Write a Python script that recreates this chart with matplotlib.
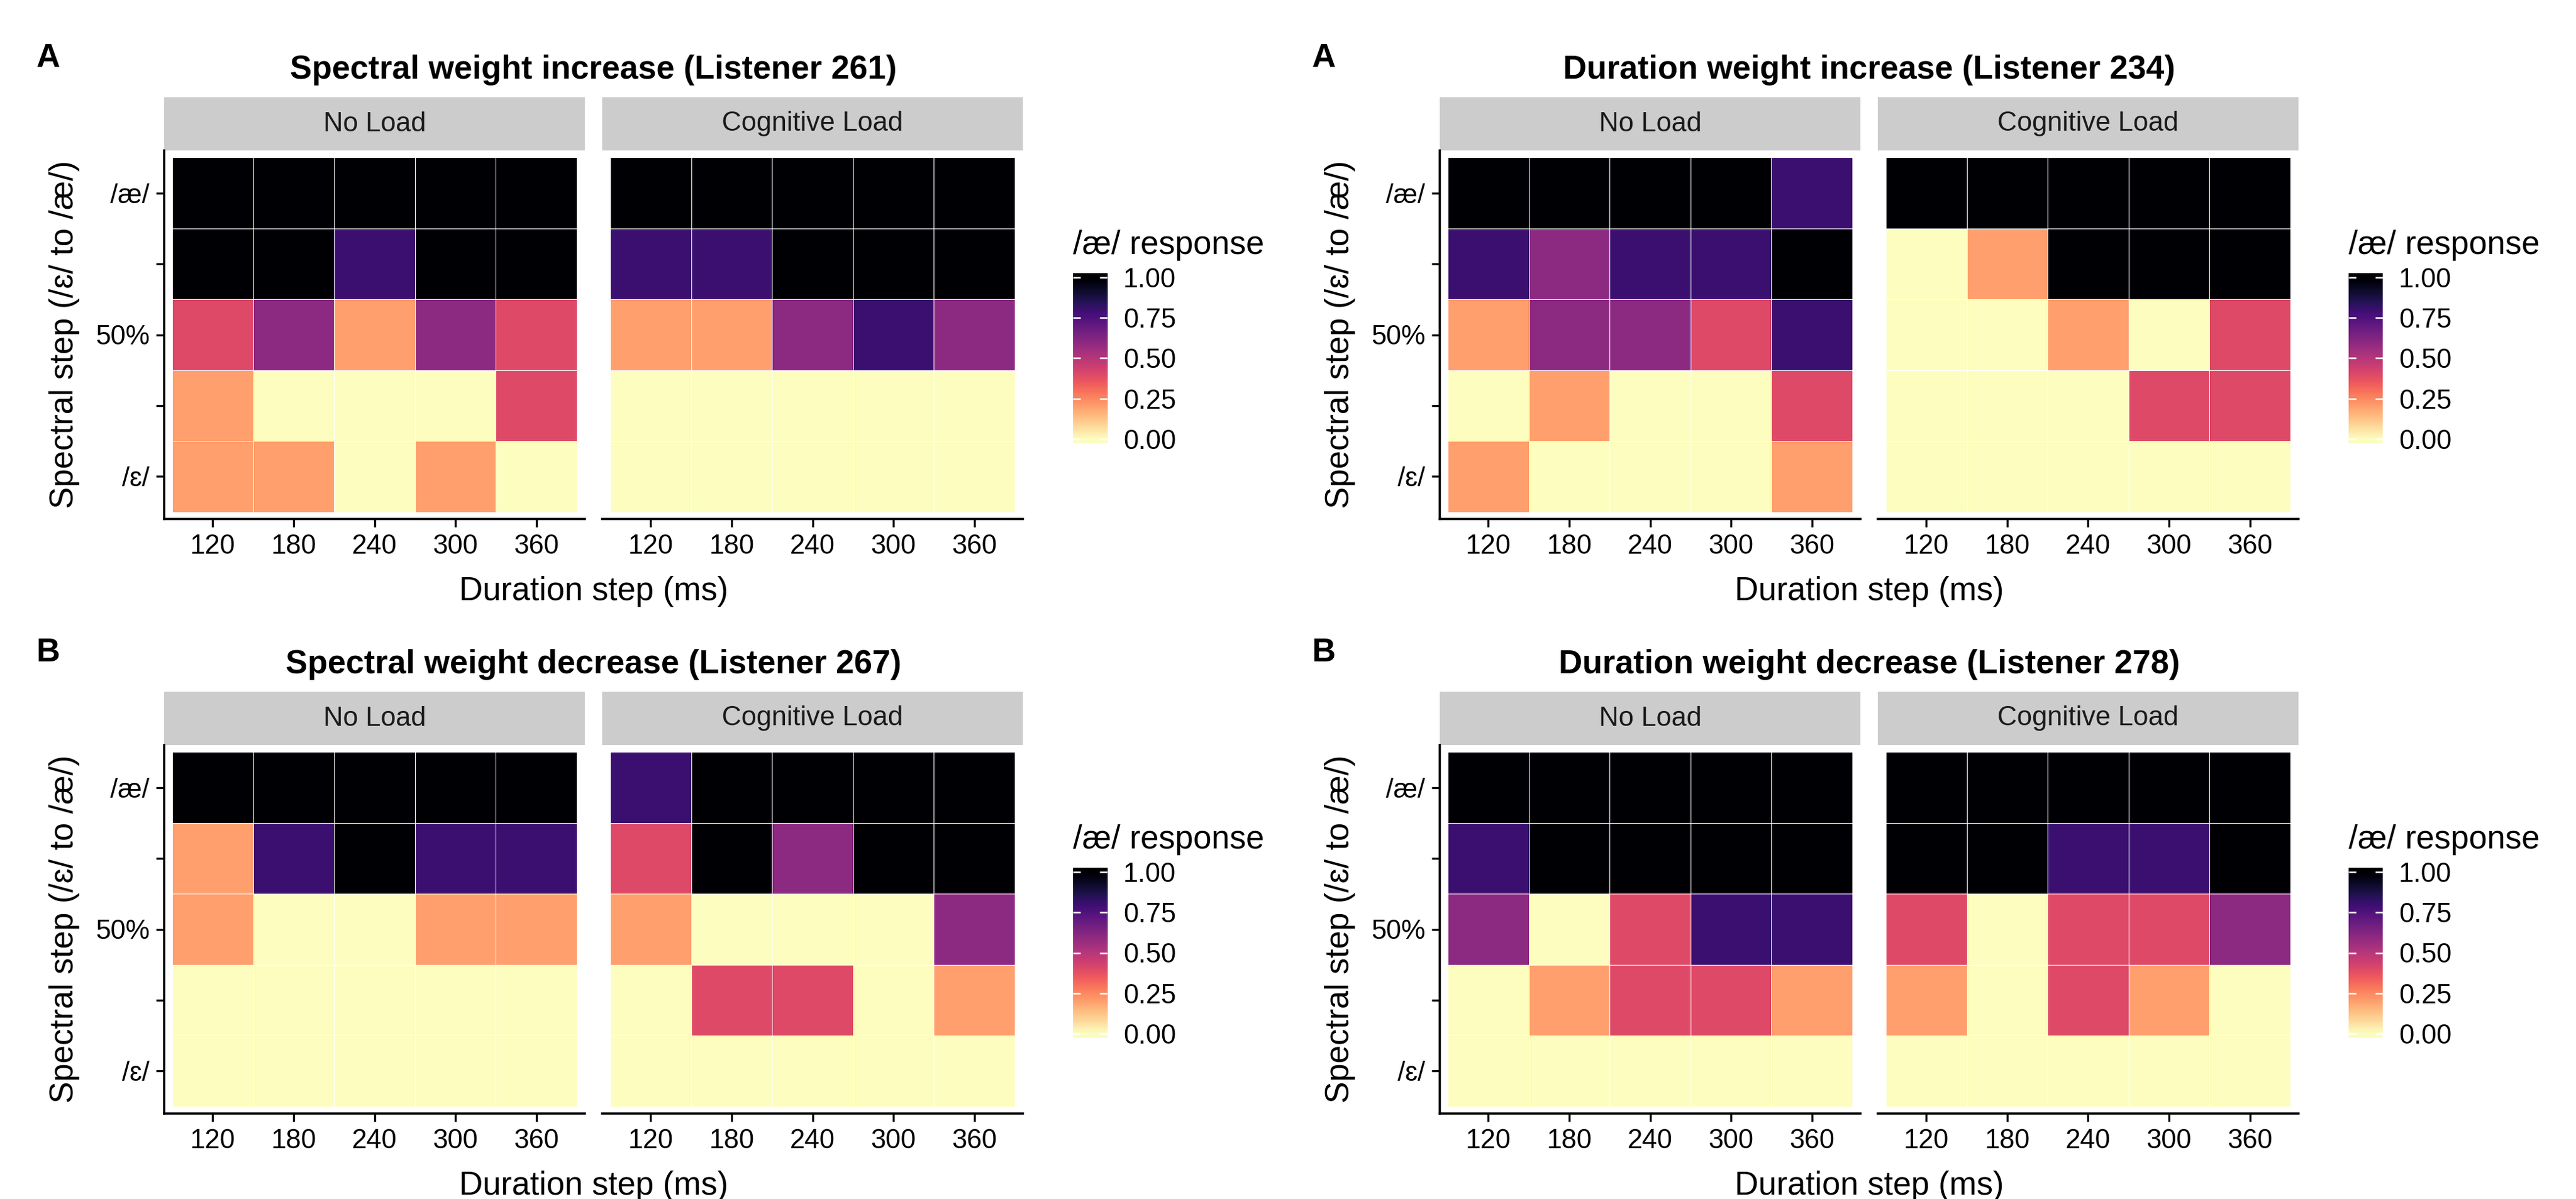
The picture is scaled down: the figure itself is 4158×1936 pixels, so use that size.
import numpy as np
import matplotlib
matplotlib.use("Agg")
import matplotlib.pyplot as plt

plt.rcParams['font.family'] = ['Liberation Sans', 'DejaVu Sans']

durations = [120, 180, 240, 300, 360]
spectral_steps = [1, 2, 3, 4, 5]
step_labels = ['/ɛ/', '', '50%', '', '/æ/']
conditions = ['No Load', 'Cognitive Load']
legend_ticks = [0.0, 0.25, 0.5, 0.75, 1.0]

# proportion of /æ/ responses, rows from step 5 (/æ/) down to step 1 (/ɛ/)
l261_no_load = [[1.0, 1.0, 1.0, 1.0, 1.0],
                [1.0, 1.0, 0.8, 1.0, 1.0],
                [0.4, 0.6, 0.2, 0.6, 0.4],
                [0.2, 0.0, 0.0, 0.0, 0.4],
                [0.2, 0.2, 0.0, 0.2, 0.0]]
l261_cog_load = [[1.0, 1.0, 1.0, 1.0, 1.0],
                 [0.8, 0.8, 1.0, 1.0, 1.0],
                 [0.2, 0.2, 0.6, 0.8, 0.6],
                 [0.0, 0.0, 0.0, 0.0, 0.0],
                 [0.0, 0.0, 0.0, 0.0, 0.0]]

l234_no_load = [[1.0, 1.0, 1.0, 1.0, 0.8],
                [0.8, 0.6, 0.8, 0.8, 1.0],
                [0.2, 0.6, 0.6, 0.4, 0.8],
                [0.0, 0.2, 0.0, 0.0, 0.4],
                [0.2, 0.0, 0.0, 0.0, 0.2]]
l234_cog_load = [[1.0, 1.0, 1.0, 1.0, 1.0],
                 [0.0, 0.2, 1.0, 1.0, 1.0],
                 [0.0, 0.0, 0.2, 0.0, 0.4],
                 [0.0, 0.0, 0.0, 0.4, 0.4],
                 [0.0, 0.0, 0.0, 0.0, 0.0]]

l267_no_load = [[1.0, 1.0, 1.0, 1.0, 1.0],
                [0.2, 0.8, 1.0, 0.8, 0.8],
                [0.2, 0.0, 0.0, 0.2, 0.2],
                [0.0, 0.0, 0.0, 0.0, 0.0],
                [0.0, 0.0, 0.0, 0.0, 0.0]]
l267_cog_load = [[0.8, 1.0, 1.0, 1.0, 1.0],
                 [0.4, 1.0, 0.6, 1.0, 1.0],
                 [0.2, 0.0, 0.0, 0.0, 0.6],
                 [0.0, 0.4, 0.4, 0.0, 0.2],
                 [0.0, 0.0, 0.0, 0.0, 0.0]]

l278_no_load = [[1.0, 1.0, 1.0, 1.0, 1.0],
                [0.8, 1.0, 1.0, 1.0, 1.0],
                [0.6, 0.0, 0.4, 0.8, 0.8],
                [0.0, 0.2, 0.4, 0.4, 0.2],
                [0.0, 0.0, 0.0, 0.0, 0.0]]
l278_cog_load = [[1.0, 1.0, 1.0, 1.0, 1.0],
                 [1.0, 1.0, 0.8, 0.8, 1.0],
                 [0.4, 0.0, 0.4, 0.4, 0.6],
                 [0.2, 0.0, 0.4, 0.2, 0.0],
                 [0.0, 0.0, 0.0, 0.0, 0.0]]

panels = [
    (0, 0, 'A', 'Spectral weight increase (Listener 261)', l261_no_load, l261_cog_load),
    (1, 0, 'A', 'Duration weight increase (Listener 234)', l234_no_load, l234_cog_load),
    (0, 1, 'B', 'Spectral weight decrease (Listener 267)', l267_no_load, l267_cog_load),
    (1, 1, 'B', 'Duration weight decrease (Listener 278)', l278_no_load, l278_cog_load),
]

W, H = 4158, 1936
fig = plt.figure(figsize=(W / 300, H / 300), dpi=300)


def rect(x0, y0, x1, y1):
    # pixel box (top-left origin) -> figure fraction
    return [x0 / W, 1 - y1 / H, (x1 - x0) / W, (y1 - y0) / H]


step = durations[1] - durations[0]
x_edges = np.append(np.array(durations) - step / 2, durations[-1] + step / 2)
y_edges = np.append(np.array(spectral_steps) - 0.5, spectral_steps[-1] + 0.5)
grad = np.linspace(-0.026, 1.026, 300).reshape(-1, 1)

for col, row, tag, title, d_no, d_cog in panels:
    ox, oy = col * 2059, row * 960

    fig.text((78 + ox) / W, 1 - (94 + oy) / H, tag, fontsize=12.7, fontweight='bold',
             ha='center', va='center')
    fig.text((958 + ox) / W, 1 - (127 + oy) / H, title, fontsize=12.7, fontweight='bold',
             ha='center', va='baseline')

    for i, (cond, data) in enumerate(zip(conditions, [d_no, d_cog])):
        x0 = 265 + ox + i * 707
        x1 = x0 + 679
        # strip
        sax = fig.add_axes(rect(x0, 157 + oy, x1, 243 + oy))
        sax.set_facecolor('#cccccc')
        sax.set_xticks([])
        sax.set_yticks([])
        for s in sax.spines.values():
            s.set_visible(False)
        sax.text(0.5, 0.5, cond, ha='center', va='center', fontsize=10.5,
                 color='#1a1a1a', transform=sax.transAxes)

        ax = fig.add_axes(rect(x0, 243 + oy, x1, 838 + oy))
        vals = np.array(data)[::-1]
        ax.pcolormesh(x_edges, y_edges, vals, cmap='magma_r', vmin=0, vmax=1,
                      edgecolors='white', linewidth=0.12)
        ax.set_xlim(x_edges[0] - 6, x_edges[-1] + 6)
        ax.set_ylim(0.4, 5.6)
        ax.set_xticks(durations)
        ax.set_xticklabels([str(d) for d in durations])
        ax.spines['top'].set_visible(False)
        ax.spines['right'].set_visible(False)
        ax.spines['bottom'].set_linewidth(0.85)
        ax.spines['left'].set_linewidth(0.85)
        ax.tick_params(length=3.1, width=0.8, labelsize=10.5, pad=2.6, colors='black')
        if i == 0:
            ax.set_yticks(spectral_steps)
            ax.set_yticklabels(step_labels)
        else:
            ax.spines['left'].set_visible(False)
            ax.set_yticks([])

    fig.text((958 + ox) / W, 1 - (955 + oy) / H, 'Duration step (ms)', fontsize=12.7,
             ha='center', va='center')
    fig.text((104 + ox) / W, 1 - (540 + oy) / H, 'Spectral step (/ɛ/ to /æ/)', fontsize=12.7,
             ha='center', va='center', rotation=90)

    # colour legend
    cax = fig.add_axes(rect(1732 + ox, 441 + oy, 1787 + ox, 716 + oy))
    cax.imshow(grad, aspect='auto', cmap='magma_r', vmin=0, vmax=1, origin='lower',
               extent=[0, 1, -0.026, 1.026])
    cax.set_ylim(-0.026, 1.026)
    cax.set_xticks([])
    cax.set_yticks(legend_ticks)
    cax.set_yticklabels(['%.2f' % t for t in legend_ticks])
    cax.tick_params(axis='y', direction='in', length=2.9, width=0.6, color='white',
                    left=True, right=True, labelleft=False, labelright=True,
                    pad=6.2, labelsize=10.5, labelcolor='black')
    for s in cax.spines.values():
        s.set_visible(False)
    fig.text((1732 + ox) / W, 1 - (410 + oy) / H, '/æ/ response', fontsize=12.7,
             ha='left', va='baseline')

plt.savefig('out.png', dpi=300)
